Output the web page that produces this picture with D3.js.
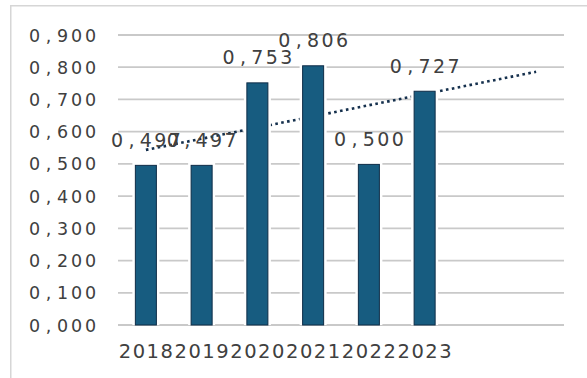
<!DOCTYPE html>
<html>
<head>
<meta charset="utf-8">
<script src="https://cdn.jsdelivr.net/npm/d3@7"></script>
<style>
  html, body { margin: 0; padding: 0; background: #fff; }
  svg { display: block; }
  text { font-family: "DejaVu Sans", Verdana, sans-serif; fill: #404040; }
</style>
</head>
<body>
<svg id="chart" width="587" height="378"></svg>
<script>
// ---- data ----
const years = ["2018", "2019", "2020", "2021", "2022", "2023"];
const values = [0.497, 0.497, 0.753, 0.806, 0.500, 0.727];
const yTicks = [0, 0.1, 0.2, 0.3, 0.4, 0.5, 0.6, 0.7, 0.8, 0.9];
const forecastPeriods = 2;

// ---- layout ----
const W = 587, H = 378;
const plot = { left: 118, right: 564, top: 35, bottom: 325 };
const svg = d3.select("#chart");

const slots = d3.range(years.length + forecastPeriods);
const x = d3.scaleBand().domain(slots).range([plot.left, plot.right])
  .paddingInner(0.605).paddingOuter(0.3025);
const y = d3.scaleLinear().domain([0, 0.9]).range([plot.bottom, plot.top]);
const fmt = v => d3.format(".3f")(v).replace(".", ",");
const cx = i => x(i) + x.bandwidth() / 2;

// per-character positions (fixed pitch, like the reference rendering)
function spacedText(g, str, centerX, baseY, pitch, size) {
  const n = str.length;
  const xs = str.split("").map((c, j) => (centerX + (j - (n - 1) / 2) * pitch).toFixed(2));
  return g.append("text")
    .attr("x", xs.join(" "))
    .attr("y", baseY)
    .attr("text-anchor", "middle")
    .attr("font-size", size)
    .text(str);
}
function spacedTextRight(g, str, rightCenterX, baseY, pitch, size) {
  const n = str.length;
  const xs = str.split("").map((c, j) => (rightCenterX - (n - 1 - j) * pitch).toFixed(2));
  return g.append("text")
    .attr("x", xs.join(" "))
    .attr("y", baseY)
    .attr("text-anchor", "middle")
    .attr("font-size", size)
    .text(str);
}

// outer border
svg.append("rect")
  .attr("x", 10.75).attr("y", 5.75)
  .attr("width", 700).attr("height", 500)
  .attr("fill", "none").attr("stroke", "#d6d6d6").attr("stroke-width", 1.5);

// gridlines
svg.append("g").selectAll("line").data(yTicks).join("line")
  .attr("x1", plot.left).attr("x2", plot.right)
  .attr("y1", d => y(d)).attr("y2", d => y(d))
  .attr("stroke", "#c9c9c9").attr("stroke-width", 1.8);

// y labels
const gy = svg.append("g");
yTicks.forEach(t => spacedTextRight(gy, fmt(t), 90.5, y(t) + 6.5, 14, 17.5));

// trendline (linear regression, extended forward)
const xs = values.map((v, i) => i + 1);
const mx = d3.mean(xs), my = d3.mean(values);
const slope = d3.sum(xs, (xi, i) => (xi - mx) * (values[i] - my)) / d3.sum(xs, xi => (xi - mx) ** 2);
const intercept = my - slope * mx;
const tStart = 1, tEnd = years.length + forecastPeriods;
svg.append("line")
  .attr("x1", cx(tStart - 1)).attr("y1", y(intercept + slope * tStart))
  .attr("x2", cx(tEnd - 1)).attr("y2", y(intercept + slope * tEnd))
  .attr("stroke", "#15304d").attr("stroke-width", 2.6)
  .attr("stroke-dasharray", "2.6 3.4");

// bar halos (white outline) and bars
const gb = svg.append("g");
gb.selectAll("rect.halo").data(values).join("rect")
  .attr("class", "halo")
  .attr("x", (d, i) => x(i) - 2.5).attr("width", x.bandwidth() + 5)
  .attr("y", d => y(d) - 2.5).attr("height", d => y(0) - y(d) + 2.5)
  .attr("fill", "#fff");
gb.selectAll("rect.bar").data(values).join("rect")
  .attr("class", "bar")
  .attr("x", (d, i) => x(i) + 0.5).attr("width", x.bandwidth() - 1)
  .attr("y", d => y(d) + 0.5).attr("height", d => y(0) - y(d) - 0.5)
  .attr("fill", "#175c80").attr("stroke", "#0e2c47").attr("stroke-width", 1);

// data labels
const gl = svg.append("g");
values.forEach((v, i) => spacedText(gl, fmt(v), cx(i), y(v) - 18, 14.4, 19));

// x labels
const gx = svg.append("g");
years.forEach((yr, i) => spacedText(gx, yr, cx(i), 358, 13.9, 19.5));
</script>
</body>
</html>
